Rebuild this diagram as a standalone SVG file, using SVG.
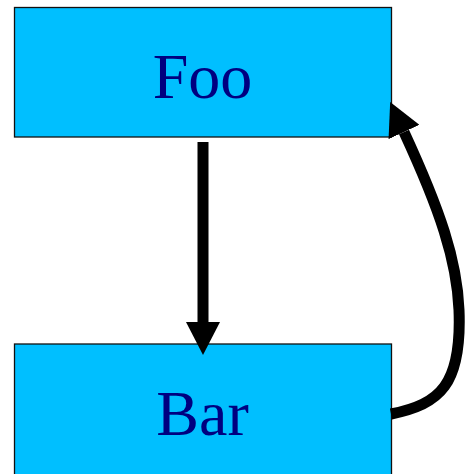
<svg xmlns="http://www.w3.org/2000/svg" width="465" height="474" viewBox="0 0 465 474">
<style>
.box{fill:#00BFFF;stroke:#111;stroke-width:1.3}
.lbl{font-family:"Liberation Serif","Times New Roman",serif;font-size:64px;fill:#000080;text-anchor:middle}
.edge{fill:none;stroke:#000;stroke-width:11;marker-end:url(#ah)}
</style>
<defs>
<marker id="ah" viewBox="0 0 33 34" refX="0" refY="17" markerWidth="33" markerHeight="34" markerUnits="userSpaceOnUse" orient="auto">
<path d="M0,0 L33,17 L0,34 Z" fill="#000"/>
</marker>
</defs>
<g id="foo">
<rect class="box" x="14.5" y="7.5" width="377" height="129.5"/>
<text class="lbl" x="202.5" y="98">Foo</text>
</g>
<g id="bar">
<rect class="box" x="14.5" y="344" width="377" height="131"/>
<text class="lbl" x="202.5" y="435">Bar</text>
</g>
<g id="connectors">
<path class="edge" d="M203,142 L203,322"/>
<path class="edge" d="M391,414 C440,404 462,385 459,310 C457,260 440,210 404,132"/>
</g>
</svg>
